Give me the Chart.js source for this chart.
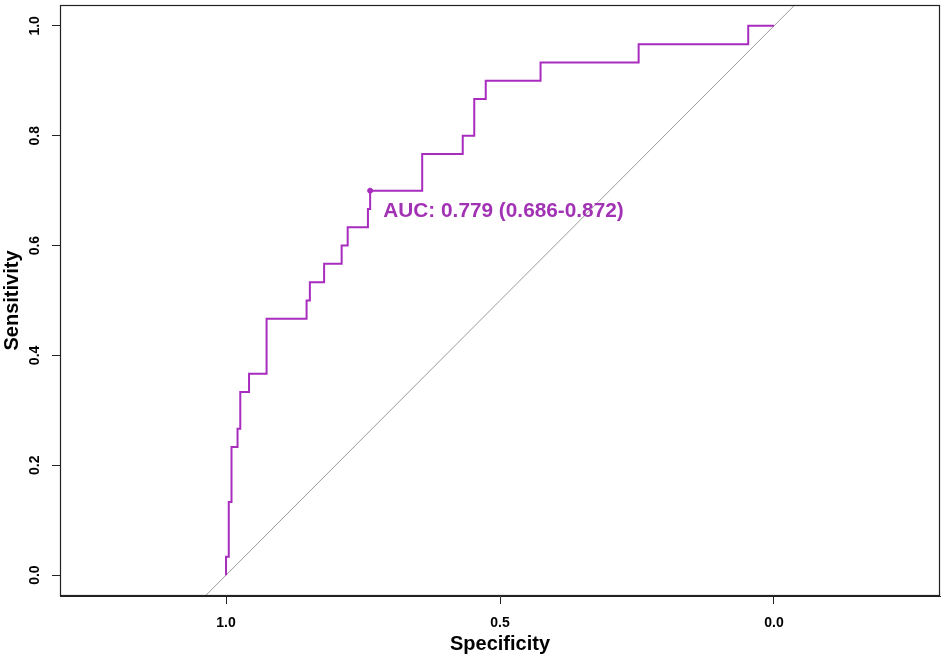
<!DOCTYPE html>
<html>
<head>
<meta charset="utf-8">
<title>ROC curve</title>
<script src="https://cdn.jsdelivr.net/npm/chart.js@4.4.1/dist/chart.umd.min.js"></script>
<style>
  html, body { margin: 0; padding: 0; background: #fff; }
  #wrap { width: 945px; height: 656px; }
</style>
</head>
<body>
<div id="wrap"><canvas id="rocChart" width="945" height="656"></canvas></div>
<script>
// ROC coordinates (specificity, sensitivity)
const specificity = [1.0, 1.0, 0.995, 0.995, 0.990, 0.990, 0.979, 0.979, 0.974, 0.974,
  0.958, 0.958, 0.926, 0.926, 0.853, 0.853, 0.847, 0.847, 0.821, 0.821,
  0.789, 0.789, 0.778, 0.778, 0.741, 0.741, 0.737, 0.737, 0.642, 0.642,
  0.568, 0.568, 0.547, 0.547, 0.526, 0.526, 0.426, 0.426, 0.247, 0.247,
  0.047, 0.047, 0.0];
const sensitivity = [0.0, 0.0333, 0.0333, 0.1333, 0.1333, 0.2333, 0.2333, 0.2667, 0.2667, 0.3333,
  0.3333, 0.3667, 0.3667, 0.4667, 0.4667, 0.5, 0.5, 0.5333, 0.5333, 0.5667,
  0.5667, 0.6, 0.6, 0.6333, 0.6333, 0.6667, 0.6667, 0.7, 0.7, 0.7667,
  0.7667, 0.8, 0.8, 0.8667, 0.8667, 0.9, 0.9, 0.9333, 0.9333, 0.9667,
  0.9667, 1.0, 1.0];

// marked point on the curve
const markSpec = [0.737];
const markSens = [0.7];

// chance line (sens = 1 - spec), drawn past the plot edges and clipped
const diagSpec = [1.2, -0.2];
const diagSens = [-0.2, 1.2];

const xTicks = [1.0, 0.5, 0.0];
const yTicks = [0.0, 0.2, 0.4, 0.6, 0.8, 1.0];
const aucText = 'AUC: 0.779 (0.686-0.872)';
const aucPos = { spec: 0.713, sens: 0.663 };

const rocColor = '#A82DBE';
const fontFamily = '"Liberation Sans", Arial, Helvetica, sans-serif';

const toPoints = (xs, ys) => xs.map((x, i) => ({ x: x, y: ys[i] }));

// frame around the plot + AUC label
const frameAndLabel = {
  id: 'frameAndLabel',
  afterDatasetsDraw(chart) {
    const { ctx, chartArea, scales } = chart;
    ctx.save();
    ctx.strokeStyle = '#222';
    ctx.lineWidth = 1.2;
    ctx.strokeRect(chartArea.left + 0.5, chartArea.top + 0.5,
      chartArea.right - chartArea.left - 1, chartArea.bottom - chartArea.top - 1);
    ctx.fillStyle = '#A232B4';
    ctx.font = 'bold 20.8px ' + fontFamily;
    ctx.textAlign = 'left';
    ctx.textBaseline = 'middle';
    ctx.fillText(aucText, scales.x.getPixelForValue(aucPos.spec), scales.y.getPixelForValue(aucPos.sens));
    ctx.restore();
  }
};

const ctx = document.getElementById('rocChart');
new Chart(ctx, {
  type: 'scatter',
  data: {
    datasets: [
      {
        label: 'chance',
        data: toPoints(diagSpec, diagSens),
        showLine: true,
        borderColor: '#9A9A9A',
        borderWidth: 1,
        pointRadius: 0,
        order: 3
      },
      {
        label: 'ROC',
        data: toPoints(specificity, sensitivity),
        showLine: true,
        borderColor: rocColor,
        borderWidth: 2,
        pointRadius: 0,
        order: 2
      },
      {
        label: 'mark',
        data: toPoints(markSpec, markSens),
        backgroundColor: rocColor,
        borderColor: rocColor,
        pointRadius: 2.5,
        order: 1
      }
    ]
  },
  options: {
    responsive: false,
    animation: false,
    layout: { padding: { top: 5, right: 5, left: 0, bottom: 0 } },
    plugins: {
      legend: { display: false },
      tooltip: { enabled: false }
    },
    scales: {
      x: {
        type: 'linear',
        reverse: true,
        min: -0.303,
        max: 1.303,
        afterBuildTicks: (scale) => { scale.ticks = xTicks.map(v => ({ value: v })); },
        afterFit: (scale) => {
          scale.height = 60;
          scale.paddingLeft = 0;
          scale.paddingRight = 0;
        },
        grid: { display: true, drawOnChartArea: false, drawTicks: true, tickLength: 8, color: '#222' },
        border: { display: true, color: '#222' },
        ticks: {
          padding: 11,
          maxRotation: 0,
          color: '#000',
          font: { family: fontFamily, size: 14, weight: 'bold' },
          callback: (v) => Number(v).toFixed(1)
        },
        title: {
          display: true,
          text: 'Specificity',
          color: '#000',
          padding: { top: 1, bottom: 0 },
          font: { family: fontFamily, size: 20, weight: 'bold' }
        }
      },
      y: {
        type: 'linear',
        min: -0.038,
        max: 1.038,
        afterBuildTicks: (scale) => { scale.ticks = yTicks.map(v => ({ value: v })); },
        afterFit: (scale) => {
          scale.width = 60;
          scale.paddingTop = 0;
          scale.paddingBottom = 0;
        },
        grid: { display: true, drawOnChartArea: false, drawTicks: true, tickLength: 8, color: '#222' },
        border: { display: true, color: '#222' },
        ticks: {
          padding: 7,
          minRotation: 90,
          maxRotation: 90,
          crossAlign: 'center',
          color: '#000',
          font: { family: fontFamily, size: 14, weight: 'bold' },
          callback: (v) => Number(v).toFixed(1)
        },
        title: {
          display: true,
          text: 'Sensitivity',
          color: '#000',
          padding: { top: 0, bottom: 0 },
          font: { family: fontFamily, size: 20, weight: 'bold' }
        }
      }
    }
  },
  plugins: [frameAndLabel]
});
</script>
</body>
</html>
